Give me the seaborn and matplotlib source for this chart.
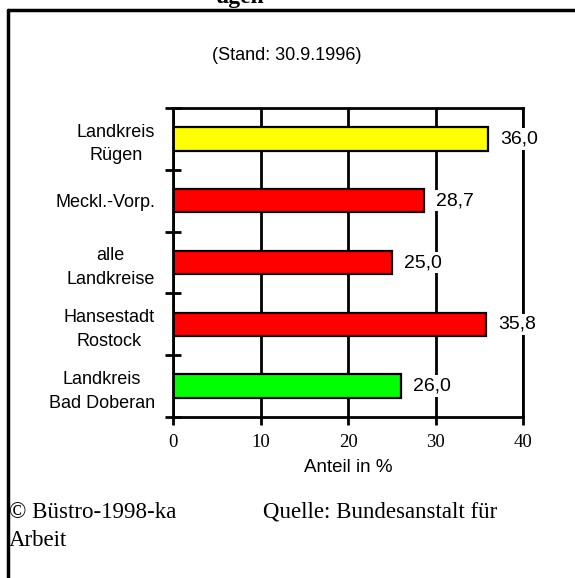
import matplotlib
matplotlib.use("Agg")
import matplotlib.pyplot as plt
import seaborn as sns
import pandas as pd
from matplotlib.lines import Line2D

# data
categories = ["Landkreis\nRügen", "Meckl.-Vorp.", "alle\nLandkreise",
              "Hansestadt\nRostock", "Landkreis\nBad Doberan"]
values = [36.0, 28.7, 25.0, 35.8, 26.0]
bar_colors = ["#FFFF00", "#FF0000", "#FF0000", "#FF0000", "#00FF00"]
x_ticks = [0, 10, 20, 30, 40]

df = pd.DataFrame({"Gebiet": categories, "Anteil": values})

sns.set_style("white")
plt.rcParams["text.color"] = "black"
plt.rcParams["xtick.color"] = "black"
plt.rcParams["ytick.color"] = "black"
plt.rcParams["axes.labelcolor"] = "black"
sans = "Liberation Sans"
serif = "Liberation Serif"

W, H = 575, 578
fig = plt.figure(figsize=(W / 100, H / 100), dpi=100)

def px(x0, y0, x1, y1):
    return [x0 / W, 1 - y1 / H, (x1 - x0) / W, (y1 - y0) / H]

ax = fig.add_axes(px(173, 108, 523, 417))

sns.barplot(data=df, y="Gebiet", x="Anteil", hue="Gebiet",
            palette=bar_colors, saturation=1, orient="h", width=0.38,
            edgecolor="black", linewidth=1.6, legend=False, ax=ax, zorder=2)

ax.set_xlim(0, 40)
ax.set_ylim(len(categories) - 0.5, -0.5)
ax.set_axisbelow(True)

# vertical grid lines
ax.set_xticks(x_ticks)
ax.set_xticklabels([str(t) for t in x_ticks], fontfamily=serif, fontsize=13.5)
ax.grid(axis="x", color="black", linewidth=2)
ax.grid(axis="y", visible=False)
ax.tick_params(axis="x", direction="out", length=6, width=2, pad=6, bottom=True)

# category boundaries as ticks, labels as minor ticks
ax.set_yticks([i - 0.5 for i in range(len(categories) + 1)])
ax.set_yticklabels([])
ax.tick_params(axis="y", which="major", direction="inout", length=12, width=2, left=True)
ax.set_yticks(range(len(categories)), minor=True)
ax.set_yticklabels(categories, minor=True, fontfamily=sans, fontsize=13,
                   multialignment="center", linespacing=1.5)
ax.tick_params(axis="y", which="minor", length=0, pad=13)

for s in ax.spines.values():
    s.set_visible(True)
    s.set_color("black")
    s.set_linewidth(2)

ax.set_ylabel("")
ax.set_xlabel("Anteil in %", fontfamily=sans, fontsize=13.5, labelpad=6)

for i, v in enumerate(values):
    ax.text(v + 1.4, i, f"{v:.1f}".replace(".", ","), va="center", ha="left",
            fontfamily=sans, fontsize=14, zorder=5, clip_on=False,
            bbox=dict(facecolor="white", edgecolor="none", pad=1.5))

# frame and page texts
fig.add_artist(Line2D([8 / W, 8 / W], [0, 1 - 10 / H], color="black", lw=2.5))
fig.add_artist(Line2D([8 / W, 1], [1 - 10 / H, 1 - 10 / H], color="black", lw=2.5))

fig.text(240 / W, 1 - 3 / H, "ügen", ha="center", va="baseline",
         fontfamily=serif, fontweight="bold", fontsize=17)
fig.text(287 / W, 1 - 55 / H, "(Stand: 30.9.1996)", ha="center", va="center",
         fontfamily=sans, fontsize=13)
fig.text(9 / W, 1 - 512 / H, "© Büstro-1998-ka", ha="left", va="center",
         fontfamily=serif, fontsize=16.5)
fig.text(263 / W, 1 - 512 / H, "Quelle: Bundesanstalt für", ha="left", va="center",
         fontfamily=serif, fontsize=16.5)
fig.text(9 / W, 1 - 540 / H, "Arbeit", ha="left", va="center",
         fontfamily=serif, fontsize=16.5)

fig.savefig("out.png", dpi=100, facecolor="white")
